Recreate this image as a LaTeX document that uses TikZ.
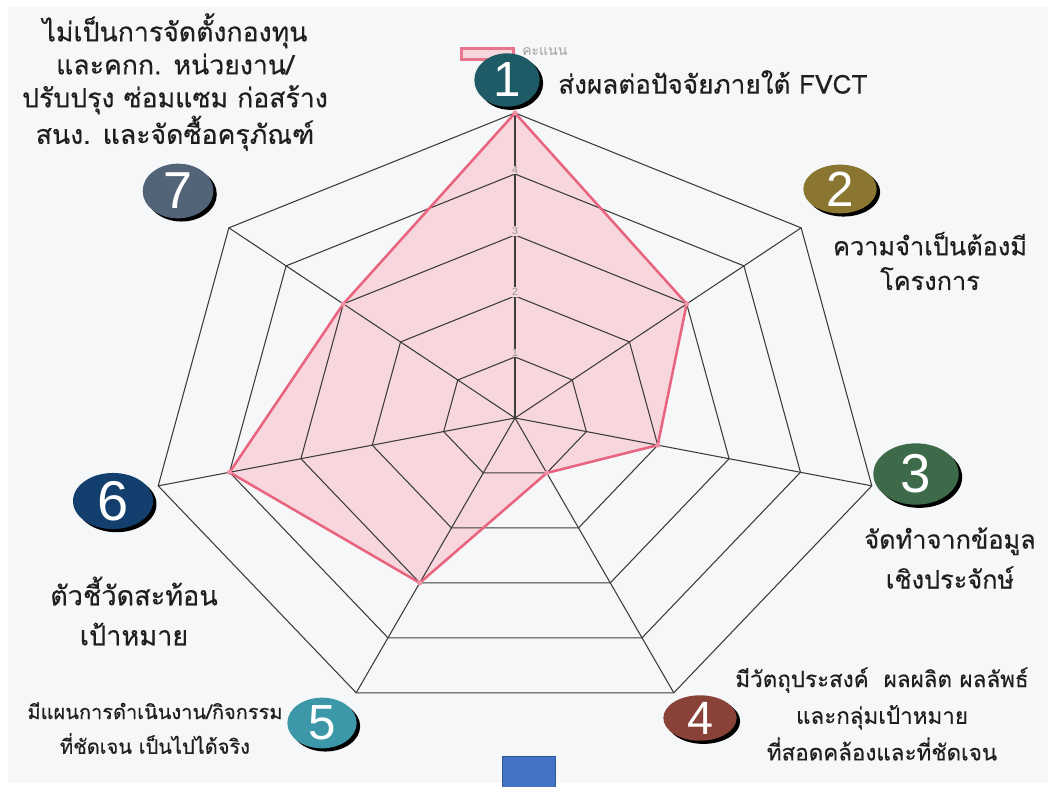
\documentclass[tikz,border=0pt]{standalone}
\usepackage{fontspec}
\setmainfont{Liberation Sans}
\newfontfamily\thai[Script=Thai,FakeBold=0.35]{Loma}
\newfontfamily\thaisl[Script=Thai]{Loma}
\newfontfamily\dig{Liberation Sans}
\usetikzlibrary{shapes.geometric,shadows,calc}
\definecolor{bgc}{HTML}{F6F7F9}
\definecolor{pinkfill}{HTML}{F8D6DD}
\definecolor{pinkline}{HTML}{E8647F}
\definecolor{gridc}{HTML}{3C3C3C}
\definecolor{cA}{HTML}{1E5B66}
\definecolor{cB}{HTML}{8A7630}
\definecolor{cC}{HTML}{3D6B4A}
\definecolor{cD}{HTML}{8A4238}
\definecolor{cE}{HTML}{3C98A8}
\definecolor{cF}{HTML}{123F6E}
\definecolor{cG}{HTML}{536479}
\definecolor{sqfill}{HTML}{4472C4}
\definecolor{sqline}{HTML}{2F5597}
\tikzset{
  gridline/.style={draw=gridc, line width=0.8pt, line join=miter},
  datafill/.style={fill=pinkfill},
  dataline/.style={draw=pinkline, line width=1.9pt, line join=round},
  datamark/.style={fill=pinkline!70},
  axlab/.style={text=gray!85, font=\dig\fontsize{8}{9}\selectfont, inner sep=0.6pt, fill=pinkfill},
  numbub/.style={ellipse, inner sep=0pt, text=white, font=\dig\fontsize{37}{40}\selectfont,
     drop shadow={fill=black, opacity=1, shadow xshift=2.6pt, shadow yshift=-2.4pt}},
  lbl/.style={align=center, text=black!88, inner sep=0pt},
  legbox/.style={draw=pinkline!90, line width=1.8pt, fill=pinkfill, minimum width=39pt, minimum height=8pt, inner sep=0pt},
  legtext/.style={text=gray!75, font=\thaisl\fontsize{10.5}{11}\selectfont, inner sep=0pt},
  bluesq/.style={fill=sqfill, draw=sqline, line width=0.8pt, minimum width=40pt, minimum height=23pt, inner sep=0pt}
}
\begin{document}
\begin{tikzpicture}[x=0.75pt,y=-0.75pt]
\useasboundingbox (0,0) rectangle (1063,787);
\fill[white] (0,0) rectangle (1063,787);
\fill[bgc] (8,7) rectangle (1048,783);
% radar geometry
\coordinate (ctr) at (515,418);
\foreach \r in {1,...,5}{
  \foreach \i in {0,...,6}{
    \coordinate (g\r-\i) at ({515+73.2*\r*cos(90-\i*360/7)},{418-61*\r*sin(90-\i*360/7)});
  }
}
\foreach \i/\v in {0/5,1/3,2/2,3/1,4/3,5/4,6/3}{
  \coordinate (d\i) at ({515+73.2*\v*cos(90-\i*360/7)},{418-61*\v*sin(90-\i*360/7)});
}
% data area
\fill[datafill] (d0) -- (d1) -- (d2) -- (d3) -- (d4) -- (d5) -- (d6) -- cycle;
% grid
\foreach \r in {1,...,5}{
  \draw[gridline] (g\r-0) -- (g\r-1) -- (g\r-2) -- (g\r-3) -- (g\r-4) -- (g\r-5) -- (g\r-6) -- cycle;
}
\foreach \i in {0,...,6}{
  \draw[gridline] (ctr) -- (g5-\i);
}
% data outline
\draw[dataline] (d0) -- (d1) -- (d2) -- (d3) -- (d4) -- (d5) -- (d6) -- cycle;
\foreach \i in {0,...,6}{ \fill[datamark] (d\i) circle (2.6); }
% axis labels
\foreach \k in {1,...,4}{
  \node[axlab] (al\k) at ($(g\k-0)+(0,-4)$) {\k};
}
% legend
\node[legbox] (leg) at (487.5,54) {};
\node[legtext, anchor=west] (legt) at (522,52) {คะแนน};
% numbered bubbles
\node[numbub, fill=cA, minimum width=49pt, minimum height=40pt] (c1) at (507,80) {1};
\node[numbub, fill=cB, minimum width=55pt, minimum height=36pt] (c2) at (840,189) {2};
\node[numbub, fill=cC, minimum width=64pt, minimum height=46pt, font=\dig\fontsize{41}{44}\selectfont] (c3) at (916,474) {3};
\node[numbub, fill=cD, minimum width=55pt, minimum height=34pt, font=\dig\fontsize{35}{38}\selectfont] (c4) at (700,718) {4};
\node[numbub, fill=cE, minimum width=52pt, minimum height=38pt] (c5) at (322,723) {5};
\node[numbub, fill=cF, minimum width=60pt, minimum height=39pt, font=\dig\fontsize{42}{45}\selectfont] (c6) at (113,501) {6};
\node[numbub, fill=cG, minimum width=53pt, minimum height=41pt, font=\dig\fontsize{39}{42}\selectfont] (c7) at (178,191) {7};
% labels
\node[lbl, anchor=west, font=\thai\fontsize{19.6}{24}\selectfont] (t1) at (558,82) {ส่งผลต่อปัจจัยภายใต้ FVCT};
\node[lbl, font=\thai\fontsize{19}{26}\selectfont] (t2) at (930,261) {ความจำเป็นต้องมี\\โครงการ};
\node[lbl, font=\thai\fontsize{19}{30}\selectfont] (t3) at (950,558) {จัดทำจากข้อมูล\\เชิงประจักษ์};
\node[lbl, font=\thai\fontsize{16.8}{27.5}\selectfont] (t4) at (882,714) {มีวัตถุประสงค์~~ผลผลิต ผลลัพธ์\\และกลุ่มเป้าหมาย\\ที่สอดคล้องและที่ชัดเจน};
\node[lbl, font=\thai\fontsize{15}{26}\selectfont] (t5) at (155,728) {มีแผนการดำเนินงาน/กิจกรรม\\ที่ชัดเจน เป็นไปได้จริง};
\node[lbl, font=\thai\fontsize{20.3}{30}\selectfont] (t6) at (134,611) {ตัวชี้วัดสะท้อน\\เป้าหมาย};
\node[lbl, font=\thai\fontsize{20}{24.75}\selectfont] (t7) at (175,82) {ไม่เป็นการจัดตั้งกองทุน\\และคกก. หน่วยงาน/\\ปรับปรุง ซ่อมแซม ก่อสร้าง\\สนง. และจัดซื้อครุภัณฑ์};
% blue square
\node[bluesq, anchor=north] (sq) at (529,756) {};
\end{tikzpicture}
\end{document}
